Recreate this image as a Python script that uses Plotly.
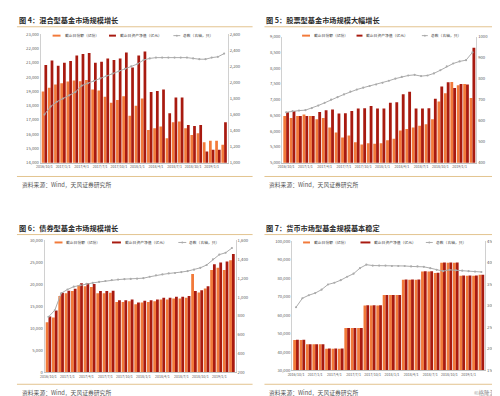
import plotly.graph_objects as go

months = ["2016/10/1", "2016/11/1", "2016/12/1",
          "2017/1/1", "2017/2/1", "2017/3/1", "2017/4/1", "2017/5/1", "2017/6/1",
          "2017/7/1", "2017/8/1", "2017/9/1", "2017/10/1", "2017/11/1", "2017/12/1",
          "2018/1/1", "2018/2/1", "2018/3/1", "2018/4/1", "2018/5/1", "2018/6/1",
          "2018/7/1", "2018/8/1", "2018/9/1", "2018/10/1", "2018/11/1", "2018/12/1",
          "2019/1/1", "2019/2/1", "2019/3/1"]
tick_labels = ["2016/10/1", "2017/1/1", "2017/4/1", "2017/7/1", "2017/10/1",
               "2018/1/1", "2018/4/1", "2018/7/1", "2018/10/1", "2019/1/1"]

titles = ["图 4：混合型基金市场规模增长", "图 5：股票型基金市场规模大幅增长",
          "图 6：债券型基金市场规模增长", "图 7：货币市场型基金规模基本稳定"]
source_text = "资料来源：Wind，天风证券研究所"
series_names = ["截止日份额（亿份）", "截止日资产净值（亿元）", "总数（右轴，只）"]

# Panel 1: 混合型
share1 = [19000, 19250, 19480, 19570, 19690, 19760, 19710, 19800, 19140, 19070,
          18620, 18200, 18390, 18660, 17300, 18000, 18500, 16300, 16420, 16530,
          15720, 16840, 16880, 16420, 15950, 16070, 15440, 15530, 15530, 15260]
nav1 = [20850, 21170, 20790, 21010, 21130, 21520, 21630, 21700, 21010, 21080,
        21310, 21200, 21310, 21720, 20670, 21520, 21790, 18960, 19030, 19140,
        17470, 18570, 18570, 16650, 16580, 16650, 14790, 14900, 14900, 16840]
count1 = [1600, 1700, 1760, 1800, 1840, 1880, 1960, 1990, 2020, 2050,
          2080, 2110, 2140, 2170, 2200, 2230, 2280, 2300, 2310, 2310,
          2310, 2310, 2310, 2310, 2300, 2290, 2290, 2310, 2320, 2360]

# Panel 2: 股票型
share2 = [6480, 6420, 6480, 6530, 6480, 6380, 6420, 6120, 5960, 5800,
          5860, 5650, 5580, 5620, 5600, 5620, 5710, 5760, 6020, 6070,
          6120, 6170, 6220, 6380, 6940, 7200, 7560, 7460, 7500, 7050]
nav2 = [6600, 6640, 6480, 6480, 6480, 6610, 6660, 6690, 6560, 6570,
        6640, 6720, 6730, 6800, 6720, 6720, 6900, 6920, 7170, 7250,
        6720, 6720, 6730, 7030, 7420, 7550, 7370, 7500, 7480, 8650]
count2 = [640, 645, 648, 650, 660, 672, 685, 700, 712, 725,
          738, 748, 757, 765, 772, 780, 790, 800, 808, 815,
          818, 812, 815, 825, 840, 858, 872, 882, 888, 925]

# Panel 3: 债券型
share3 = [11400, 12500, 17400, 18000, 18500, 19800, 19600, 19400, 18000, 18000,
          18100, 16000, 16000, 16200, 15500, 15900, 16000, 16200, 16600, 16600,
          16800, 16800, 17000, 22400, 18200, 19100, 23300, 23800, 23300, 25500]
nav3 = [12700, 14100, 18100, 18600, 19000, 20300, 20300, 20100, 18500, 18500,
        18600, 16400, 16400, 16600, 15900, 16300, 16400, 16600, 17000, 17000,
        17200, 17200, 17400, 18500, 18700, 19600, 24600, 25000, 25200, 26900]
count3 = [790, 860, 1040, 1080, 1110, 1125, 1140, 1150, 1160, 1170,
          1180, 1185, 1190, 1192, 1195, 1200, 1215, 1230, 1240, 1250,
          1255, 1265, 1275, 1290, 1310, 1340, 1400, 1450, 1470, 1520]

# Panel 4: 货币市场型
share4 = [46600, 46600, 44200, 44200, 44200, 41800, 41800, 41800, 53000, 53000,
          53000, 65300, 65300, 65300, 70900, 70900, 70900, 79200, 79200, 79200,
          83700, 83700, 82900, 88500, 88500, 88500, 81400, 81400, 81400, 81900]
nav4 = [46700, 46700, 44300, 44300, 44300, 41900, 41900, 41900, 53100, 53100,
        53100, 65400, 65400, 65400, 71000, 71000, 71000, 79300, 79300, 79300,
        83800, 83800, 83000, 88600, 88600, 88600, 81500, 81500, 81500, 82000]
count4 = [297, 318, 325, 330, 338, 350, 354, 360, 368, 375,
          388, 396, 394, 394, 394, 393, 393, 393, 392, 392,
          391, 388, 384, 381, 384, 383, 382, 381, 380, 379]

W, H = 500, 396
def px(x): return x / W
def py(y): return 1 - y / H

SHARE_C = "#F27A3A"
NAV_C = "#A81A10"
LINE_C = "#ABABAB"
TICK_C = "#595959"
SEP_C = "#E3C48F"
FONT = "Noto Sans CJK SC"

panels = [
    dict(share=share1, nav=nav1, cnt=count1, x=(28, 217), y=(22.7, 153),
         yl=(14000, 23000, 1000, ","), yr=(1000, 2600, 200, ","), ox=0, oy=0,
         leg_y=24, leg_x=[(40, 50), (97, 106), (162, 170)]),
    dict(share=share2, nav=nav2, cnt=count2, x=(272, 468), y=(25, 153),
         yl=(5000, 9000, 500, ","), yr=(400, 1000, 100, "d"), ox=250, oy=0,
         leg_y=24, leg_x=[(292, 302), (347, 355), (413, 420)]),
    dict(share=share3, nav=nav3, cnt=count3, x=(32, 225), y=(232, 366),
         yl=(0, 30000, 5000, ","), yr=(200, 1600, 200, ","), ox=0, oy=211,
         leg_y=234, leg_x=[(42, 52), (100, 111), (167, 176)]),
    dict(share=share4, nav=nav4, cnt=count4, x=(282, 477), y=(233, 364),
         yl=(30000, 100000, 10000, ","), yr=(150, 450, 50, ","), ox=250, oy=211,
         leg_y=234, leg_x=[(293, 302), (351, 363), (417, 425)]),
]

fig = go.Figure()
layout = {}
shapes = []
annotations = []

for k, p in enumerate(panels):
    n = k + 1
    xa = "x" if n == 1 else f"x{n}"
    yl_name = f"y{2*n-1}" if n > 1 else "y"
    yr_name = f"y{2*n}"
    fig.add_trace(go.Bar(x=months, y=p["share"], name=series_names[0],
                         marker=dict(color=SHARE_C, line=dict(width=0)),
                         xaxis=xa, yaxis=yl_name, showlegend=False))
    fig.add_trace(go.Bar(x=months, y=p["nav"], name=series_names[1],
                         marker=dict(color=NAV_C, line=dict(width=0)),
                         xaxis=xa, yaxis=yl_name, showlegend=False))
    fig.add_trace(go.Scatter(x=months, y=p["cnt"], name=series_names[2],
                             mode="lines+markers",
                             line=dict(color=LINE_C, width=1),
                             marker=dict(color=LINE_C, size=2.2),
                             xaxis=xa, yaxis=yr_name, showlegend=False))

    x0, x1 = p["x"]
    y0, y1 = p["y"]
    xkey = "xaxis" if n == 1 else f"xaxis{n}"
    ylkey = "yaxis" if n == 1 else f"yaxis{2*n-1}"
    yrkey = f"yaxis{2*n}"
    layout[xkey] = dict(domain=[px(x0), px(x1)], anchor=yl_name,
                        type="category", range=[-0.6, 29.6],
                        tickmode="array", tickvals=tick_labels, ticktext=tick_labels,
                        tickangle=0, tickfont=dict(size=3.6, color=TICK_C, family=FONT),
                        showline=True, linecolor="#BFBFBF", linewidth=1,
                        showgrid=False, ticks="", zeroline=False)
    lo, hi, dt, fmt = p["yl"]
    layout[ylkey] = dict(domain=[py(y1), py(y0)], anchor=xa, range=[lo, hi],
                         dtick=dt, tick0=lo, tickformat=fmt,
                         tickfont=dict(size=4.2, color=TICK_C, family=FONT),
                         showline=True, linecolor="#D0D0D0", linewidth=1,
                         showgrid=False, zeroline=False, ticks="")
    lo, hi, dt, fmt = p["yr"]
    layout[yrkey] = dict(domain=[py(y1), py(y0)], anchor=xa, overlaying=yl_name,
                         side="right", range=[lo, hi], dtick=dt, tick0=lo,
                         tickformat=fmt,
                         tickfont=dict(size=4.2, color=TICK_C, family=FONT),
                         showline=True, linecolor="#D0D0D0", linewidth=1,
                         showgrid=False, zeroline=False, ticks="")

    # manual legend
    ly = p["leg_y"]
    colors = [SHARE_C, NAV_C]
    for j, (mx, tx) in enumerate(p["leg_x"]):
        if j < 2:
            shapes.append(dict(type="rect", xref="paper", yref="paper",
                               x0=px(mx), x1=px(tx - 2), y0=py(ly + 1), y1=py(ly - 1),
                               fillcolor=colors[j], line=dict(width=0)))
        else:
            shapes.append(dict(type="line", xref="paper", yref="paper",
                               x0=px(mx), x1=px(tx - 1), y0=py(ly), y1=py(ly),
                               line=dict(color=LINE_C, width=1)))
            cx = (mx + tx - 1) / 2
            shapes.append(dict(type="circle", xref="paper", yref="paper",
                               x0=px(cx - 1), x1=px(cx + 1), y0=py(ly + 1), y1=py(ly - 1),
                               fillcolor=LINE_C, line=dict(width=0)))
        annotations.append(dict(text=series_names[j], xref="paper", yref="paper",
                                x=px(tx), y=py(ly), xanchor="left", yanchor="middle",
                                showarrow=False,
                                font=dict(size=3.8, color="#404040", family=FONT)))

    ox, oy = p["ox"], p["oy"]
    annotations.append(dict(text="<b>" + titles[k] + "</b>", xref="paper", yref="paper",
                            x=px(ox + 4), y=py(oy + 8), xanchor="left",
                            yanchor="middle", showarrow=False,
                            font=dict(size=7.2, color="#2B2B2B", family=FONT)))
    annotations.append(dict(text=source_text, xref="paper", yref="paper",
                            x=px(ox + 7), y=py(oy + 175), xanchor="left",
                            yanchor="middle", showarrow=False,
                            font=dict(size=5.8, color="#555555", family=FONT)))
    for sy in (oy + 15, oy + 167):
        shapes.append(dict(type="line", xref="paper", yref="paper",
                           x0=px(ox + 4), x1=px(ox + 242), y0=py(sy), y1=py(sy),
                           line=dict(color=SEP_C, width=1)))

annotations.append(dict(text="©格隆汇", xref="paper", yref="paper",
                        x=px(490), y=py(387), xanchor="right", yanchor="middle",
                        showarrow=False,
                        font=dict(size=5.5, color="#8C8C8C", family=FONT)))

fig.update_layout(**layout)
fig.update_layout(width=W, height=H, autosize=False,
                  margin=dict(l=0, r=0, t=0, b=0),
                  paper_bgcolor="white", plot_bgcolor="white",
                  barmode="group", bargap=0.12, bargroupgap=0.0,
                  showlegend=False, shapes=shapes, annotations=annotations,
                  font=dict(family=FONT))

fig.write_html("out.html")
